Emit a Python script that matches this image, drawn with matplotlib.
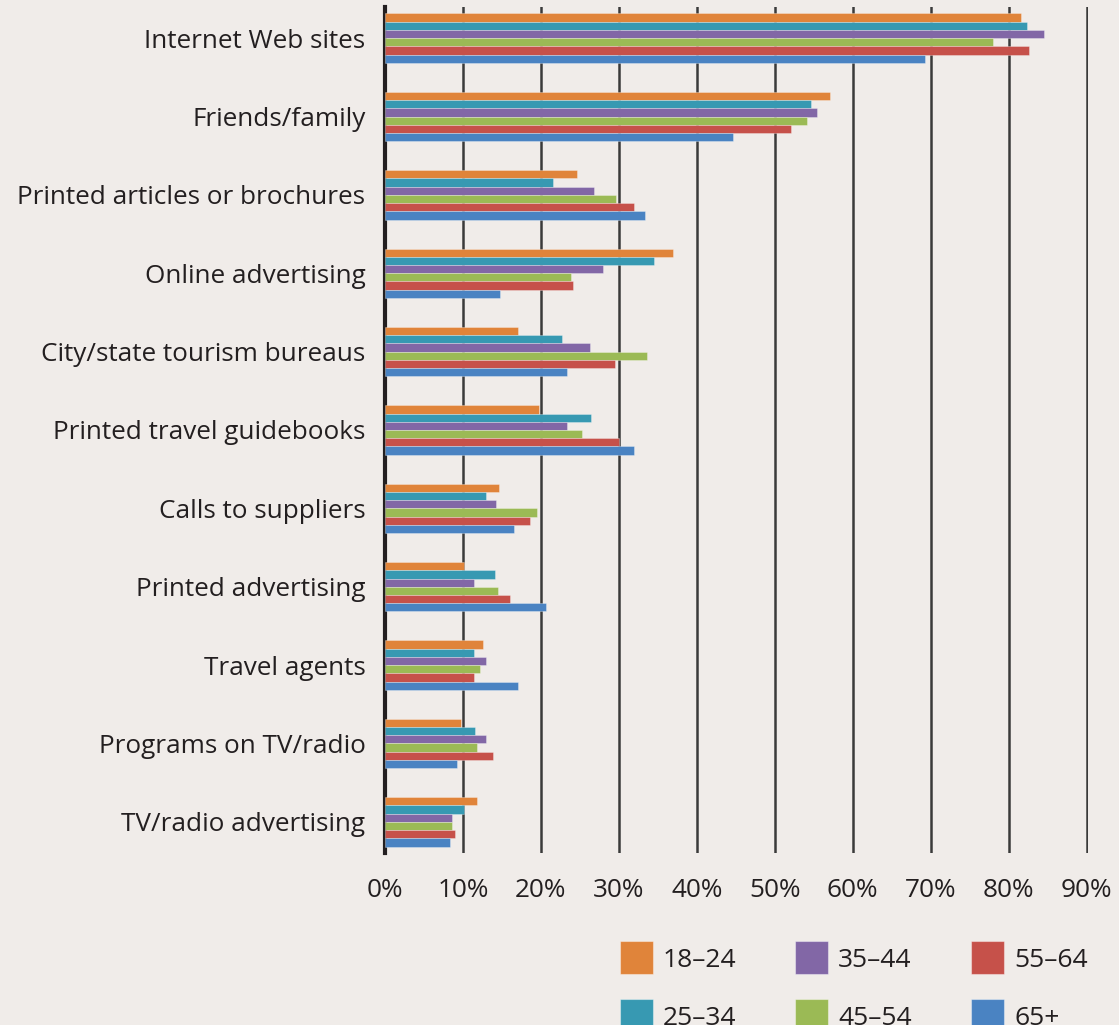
import numpy as np
import matplotlib.pyplot as plt
from matplotlib.patches import Rectangle

plt.rcParams['font.family'] = ['Open Sans', 'DejaVu Sans']
plt.rcParams['font.weight'] = 'medium'

categories = ["Internet Web sites", "Friends/family", "Printed articles or brochures",
              "Online advertising", "City/state tourism bureaus", "Printed travel guidebooks",
              "Calls to suppliers", "Printed advertising", "Travel agents",
              "Programs on TV/radio", "TV/radio advertising"]
groups = ["18–24", "25–34", "35–44", "45–54", "55–64", "65+"]

age_18_24 = [81.6, 57.1, 24.6, 36.9, 17.1, 19.7, 14.6, 10.1, 12.6, 9.8, 11.8]
age_25_34 = [82.3, 54.7, 21.6, 34.5, 22.7, 26.4, 12.9, 14.1, 11.4, 11.6, 10.1]
age_35_44 = [84.6, 55.4, 26.8, 28.0, 26.3, 23.3, 14.2, 11.4, 13.0, 13.0, 8.6]
age_45_54 = [78.0, 54.1, 29.7, 23.9, 33.6, 25.3, 19.5, 14.5, 12.2, 11.8, 8.6]
age_55_64 = [82.6, 52.1, 31.9, 24.1, 29.5, 30.0, 18.6, 16.1, 11.4, 13.9, 9.0]
age_65_up = [69.3, 44.7, 33.3, 14.8, 23.3, 31.9, 16.5, 20.6, 17.1, 9.2, 8.4]

series = [age_18_24, age_25_34, age_35_44, age_45_54, age_55_64, age_65_up]
colors = ["#E0843A", "#3799B2", "#8267A6", "#9BBA55", "#C6514A", "#4A83C2"]

bg = "#F0ECE9"
txt = "#231F20"
W, H = 1119, 1025

fig = plt.figure(figsize=(W / 100, H / 100), dpi=100, facecolor=bg)
ax = fig.add_axes([0.344, 0.168, 0.6284, 0.825])
ax.set_facecolor(bg)

y = np.arange(len(categories))
h = 0.105
for i, (vals, c) in enumerate(zip(series, colors)):
    ax.barh(y + (i - 2.5) * h, vals, height=h, color=c,
            edgecolor=(1, 1, 1, 0.35), linewidth=0.6, zorder=3)

for xv in range(10, 100, 10):
    ax.axvline(xv, color="#3a3a3a", lw=1.8, zorder=1)

ax.set_xlim(0, 90.2)
ax.set_ylim(10.395, -0.395)
ax.set_yticks(y)
ax.set_yticklabels(categories)
ax.set_xticks(range(0, 100, 10))
ax.set_xticklabels([f"{v}%" for v in range(0, 100, 10)])
ax.tick_params(length=0, labelsize=18.8, colors=txt)
ax.tick_params(axis='y', pad=14)
ax.tick_params(axis='x', pad=18)
for s in ["top", "right", "bottom"]:
    ax.spines[s].set_visible(False)
ax.spines["left"].set_linewidth(3)
ax.spines["left"].set_color(txt)

# legend: 3 columns x 2 rows, filled column by column
col_x = [620, 795, 971]
row_top = [941, 999]
sw = 33
for k, (g, c) in enumerate(zip(groups, colors)):
    cx = col_x[k // 2]
    ty = row_top[k % 2]
    fig.add_artist(Rectangle((cx / W, 1 - (ty + sw) / H), sw / W, sw / H,
                             transform=fig.transFigure, facecolor=c,
                             edgecolor=(1, 1, 1, 0.4), linewidth=0.8))
    fig.text((cx + sw + 10) / W, 1 - (ty + sw / 2) / H, g, fontsize=19,
             color=txt, ha="left", va="center_baseline")

fig.savefig("out.png", dpi=100, facecolor=bg)
